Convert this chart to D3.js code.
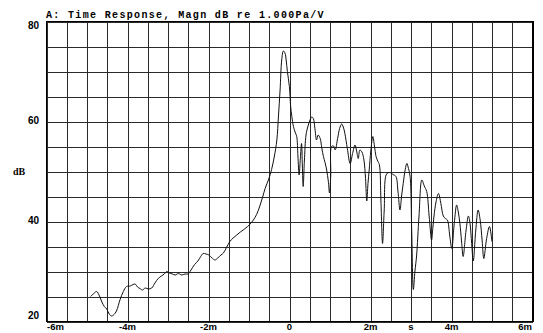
<!DOCTYPE html>
<html>
<head>
<meta charset="utf-8">
<script src="https://cdn.jsdelivr.net/npm/d3@7/dist/d3.min.js"></script>
<style>
  html, body { margin: 0; padding: 0; background: #fff; }
  svg { display: block; }
</style>
</head>
<body>
<svg id="chart" width="543" height="333"></svg>
<script>
const titleText = "A: Time Response, Magn dB re 1.000Pa/V";
const yTickValues = [20, 40, 60, 80];
const xTickValues = [-6, -4, -2, 0, 2, 4, 6];
const xTickLabels = ["-6m", "-4m", "-2m", "0", "2m", "4m", "6m"];
const xUnitLabel = "s";
const yUnitLabel = "dB";

// time in ms
const timeMs = [
-4.90,-4.82,-4.75,-4.68,-4.62,-4.56,-4.50,-4.44,-4.38,-4.32,-4.26,-4.17,-4.09,-4.01,-3.92,-3.85,-3.80,-3.74,-3.68,-3.62,
-3.55,-3.47,-3.39,-3.31,-3.23,-3.15,-3.08,-3.02,-2.95,-2.88,-2.81,-2.73,-2.65,-2.57,-2.49,-2.42,-2.33,-2.25,-2.18,-2.12,
-2.05,-1.98,-1.90,-1.83,-1.76,-1.68,-1.62,-1.55,-1.46,-1.38,-1.29,-1.20,-1.10,-1.02,-0.96,-0.88,-0.80,-0.72,-0.65,-0.59,
-0.50,-0.43,-0.36,-0.30,-0.26,-0.22,-0.18,-0.14,-0.10,-0.07,-0.04,0.01,0.04,0.07,0.11,0.15,0.19,0.22,0.25,0.28,
0.31,0.33,0.35,0.38,0.42,0.47,0.52,0.56,0.60,0.64,0.68,0.72,0.77,0.81,0.85,0.89,0.93,0.97,1.00,1.03,
1.05,1.10,1.14,1.20,1.25,1.30,1.34,1.38,1.44,1.51,1.57,1.63,1.67,1.71,1.75,1.80,1.85,1.89,1.92,1.95,
1.98,2.02,2.07,2.11,2.15,2.19,2.23,2.27,2.31,2.35,2.41,2.49,2.57,2.64,2.69,2.74,2.78,2.82,2.87,2.91,
2.95,2.99,3.03,3.07,3.11,3.15,3.21,3.28,3.34,3.40,3.46,3.52,3.55,3.58,3.63,3.69,3.75,3.81,3.86,3.91,
3.97,4.02,4.08,4.14,4.18,4.22,4.26,4.30,4.37,4.43,4.47,4.51,4.55,4.61,4.67,4.72,4.77,4.81,4.88,4.95,
5.01
];
// magnitude in dB
const magnDb = [
24.9,25.5,25.9,25.0,23.8,22.9,22.4,21.4,21.0,21.3,22.0,24.3,25.9,26.9,27.0,27.3,27.4,26.8,26.5,26.2,
26.6,26.4,26.6,27.6,28.5,29.0,29.4,29.9,29.6,29.4,29.2,29.5,29.2,29.4,29.4,30.2,31.3,32.0,32.9,33.5,
33.4,33.2,32.6,32.2,32.6,33.2,33.6,34.6,35.9,36.6,37.2,37.8,38.4,38.9,39.4,40.2,41.3,43.0,44.8,46.5,
48.4,50.3,53.0,56.2,61.0,66.2,72.2,74.0,73.6,72.2,69.9,66.9,63.0,60.9,58.9,57.8,56.9,53.0,49.2,52.5,
55.5,51.0,46.9,52.0,57.2,59.0,60.2,60.8,60.5,58.5,56.2,57.2,56.5,54.6,52.9,51.7,50.2,48.0,45.6,49.0,
54.9,55.0,54.2,56.5,58.5,59.4,58.8,57.5,54.5,51.5,53.5,55.2,54.0,52.5,54.2,53.8,52.2,48.5,44.0,47.5,
50.2,54.0,56.9,55.0,52.9,52.0,51.3,44.0,35.5,42.0,49.4,49.7,49.3,48.9,46.0,42.2,45.0,47.5,50.3,51.5,
50.5,48.9,38.0,26.3,30.0,33.0,41.0,48.2,47.0,45.9,41.0,36.2,38.5,41.0,43.8,45.5,43.5,41.0,40.5,40.2,
37.0,34.5,39.5,43.2,41.8,39.5,36.0,32.9,38.0,41.0,39.5,35.5,32.0,38.0,42.2,40.2,36.0,32.5,36.5,38.9,
35.9
];

const svg = d3.select("#chart");
const L = 46, R = 532, T = 21, B = 321;
const x = d3.scaleLinear().domain([-6, 6]).range([L, R]);
const y = d3.scaleLinear().domain([20, 80]).range([B, T]);

// grid lines via axes
const gridX = d3.axisBottom(x).tickValues(d3.range(-6, 6.001, 0.5)).tickSize(-(B - T)).tickFormat("");
const gridY = d3.axisLeft(y).tickValues(d3.range(20, 80.001, 5)).tickSize(-(R - L)).tickFormat("");

svg.append("g").attr("transform", `translate(0.5,${B + 0.5})`).call(gridX)
  .call(g => g.select(".domain").remove())
  .call(g => g.selectAll("line").attr("stroke", "#2a2a2a").attr("stroke-width", 1).attr("shape-rendering", "crispEdges"));
svg.append("g").attr("transform", `translate(${L + 0.5},0.5)`).call(gridY)
  .call(g => g.select(".domain").remove())
  .call(g => g.selectAll("line").attr("stroke", "#2a2a2a").attr("stroke-width", 1).attr("shape-rendering", "crispEdges"));

// frame
svg.append("rect").attr("x", L + 0.5).attr("y", T + 0.5).attr("width", R - L).attr("height", B - T)
  .attr("fill", "none").attr("stroke", "#000").attr("stroke-width", 1).attr("shape-rendering", "crispEdges");
svg.append("line").attr("x1", R + 1).attr("x2", R + 1).attr("y1", T).attr("y2", B + 1)
  .attr("stroke", "#000").attr("stroke-width", 1).attr("shape-rendering", "crispEdges");

// curve
const pts = timeMs.map((t, i) => [t, magnDb[i]]);
const line = d3.line().x(d => x(d[0])).y(d => y(d[1])).curve(d3.curveCatmullRom.alpha(0.5));
svg.append("path").datum(pts).attr("d", line)
  .attr("fill", "none").attr("stroke", "#111").attr("stroke-width", 1).attr("stroke-linejoin", "round");

// title
svg.append("text").attr("x", 46).attr("y", 17.5).text(titleText)
  .attr("font-family", "Liberation Mono, DejaVu Sans Mono, monospace").attr("font-weight", "bold")
  .attr("font-size", 10).attr("letter-spacing", "1.34px").attr("fill", "#000");

// y tick labels
svg.append("g").selectAll("text").data(yTickValues).join("text")
  .attr("x", 39).attr("y", d => Math.max(29, Math.min(319, y(d) + 3)))
  .attr("text-anchor", "end").text(d => d)
  .attr("font-family", "Liberation Sans, Arial, sans-serif").attr("font-weight", "bold")
  .attr("font-size", 10).attr("fill", "#000");

svg.append("text").attr("x", 13).attr("y", 175).text(yUnitLabel)
  .attr("font-family", "Liberation Serif, serif").attr("font-weight", "bold")
  .attr("font-size", 10).attr("fill", "#000");

// x tick labels
svg.append("g").selectAll("text").data(xTickValues).join("text")
  .attr("x", (d, i) => i === 0 ? x(d) + 1 : (i === xTickValues.length - 1 ? x(d) : x(d) + 0.5))
  .attr("y", 330)
  .attr("text-anchor", (d, i) => i === 0 ? "start" : (i === xTickValues.length - 1 ? "end" : "middle"))
  .text((d, i) => xTickLabels[i])
  .attr("font-family", "Liberation Sans, Arial, sans-serif").attr("font-weight", "bold")
  .attr("font-size", 9.5).attr("fill", "#000");

svg.append("text").attr("x", x(3) + 0.5).attr("y", 330).attr("text-anchor", "middle").text(xUnitLabel)
  .attr("font-family", "Liberation Sans, Arial, sans-serif").attr("font-weight", "bold")
  .attr("font-size", 9.5).attr("fill", "#000");
</script>
</body>
</html>
